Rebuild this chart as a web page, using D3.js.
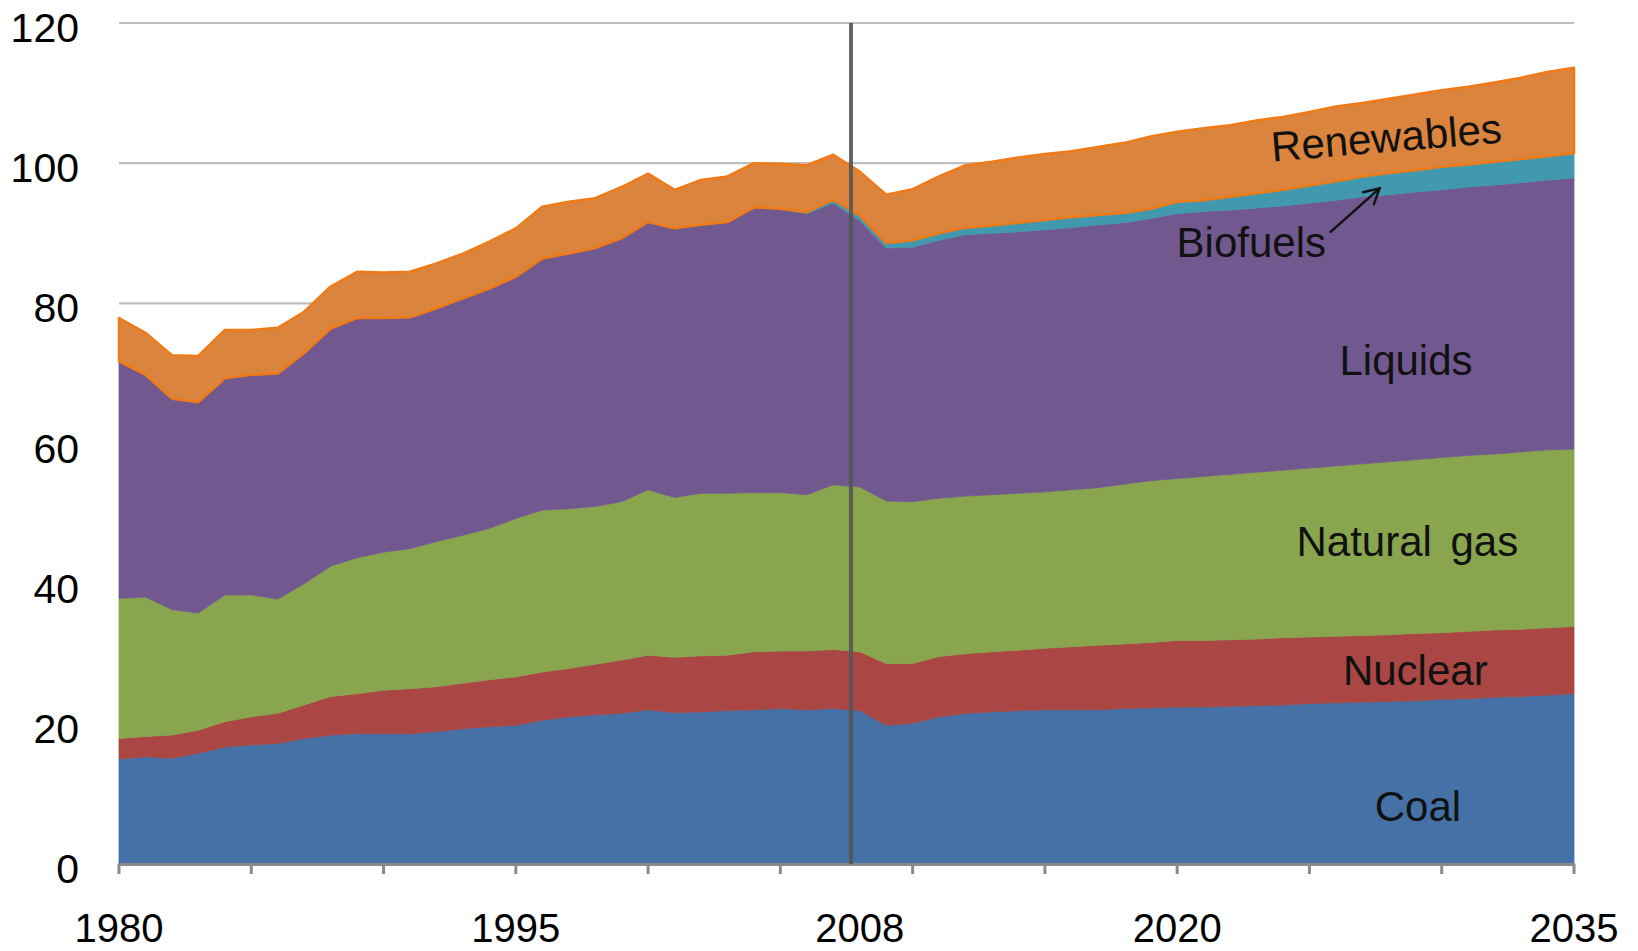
<!DOCTYPE html>
<html>
<head>
<meta charset="utf-8">
<script src="https://cdn.jsdelivr.net/npm/d3@7/dist/d3.min.js"></script>
<style>
  html, body { margin: 0; padding: 0; background: #fff; }
  svg { display: block; }
  text { font-family: "Liberation Sans", Arial, Helvetica, sans-serif; }
</style>
</head>
<body>
<svg id="chart" width="1638" height="951"></svg>
<script>
// ---- Data (quadrillion Btu) ----
const years = d3.range(1980, 2036);

const coal = [15.0,15.3,15.1,15.8,16.7,17.0,17.2,17.9,18.4,18.6,
              18.6,18.6,18.9,19.3,19.6,19.8,20.5,21.0,21.3,21.5,
              22.0,21.6,21.7,21.9,22.0,22.2,22.0,22.2,21.9,19.8,
              20.1,21.0,21.5,21.7,21.9,22.0,22.0,22.0,22.2,22.3,
              22.4,22.4,22.5,22.6,22.7,22.9,23.0,23.1,23.2,23.3,
              23.5,23.6,23.8,23.9,24.1,24.3];
const nuclear = [2.9,2.9,3.3,3.3,3.6,4.0,4.3,4.8,5.5,5.7,
                 6.2,6.4,6.4,6.5,6.7,6.9,6.9,6.9,7.2,7.6,
                 7.8,7.9,8.0,7.9,8.3,8.2,8.4,8.4,8.4,8.8,
                 8.5,8.6,8.5,8.6,8.6,8.8,9.0,9.2,9.2,9.3,
                 9.5,9.5,9.5,9.5,9.6,9.5,9.5,9.5,9.5,9.6,
                 9.5,9.6,9.6,9.6,9.6,9.6];
const naturalGas = [20.0,19.9,17.9,16.7,18.1,17.4,16.3,17.3,18.6,19.4,
                    19.7,20.0,20.7,21.1,21.6,22.6,23.1,22.8,22.5,22.6,
                    23.6,22.8,23.2,23.1,22.7,22.6,22.3,23.5,23.5,23.2,
                    23.1,22.6,22.5,22.4,22.4,22.3,22.4,22.5,22.8,23.1,
                    23.1,23.4,23.6,23.8,23.9,24.1,24.3,24.5,24.7,24.8,
                    25.0,25.1,25.1,25.3,25.4,25.3];
const liquids = [33.8,31.7,30.1,30.1,30.9,31.4,32.2,32.9,33.9,34.2,
                 33.4,33.0,33.3,33.8,34.2,34.5,35.9,36.4,36.9,37.6,
                 38.2,38.4,38.3,38.7,40.7,40.4,40.1,40.2,38.0,36.1,
                 36.3,36.8,37.3,37.3,37.3,37.4,37.4,37.5,37.3,37.4,
                 37.8,37.8,37.7,37.7,37.7,37.8,37.9,38.1,38.1,38.2,
                 38.2,38.3,38.4,38.4,38.5,38.7];
const biofuels = [0,0,0,0,0,0,0,0,0,0,
                  0,0,0,0,0,0,0,0,0,0,
                  0,0,0,0,0,0.1,0.2,0.5,0.7,0.7,
                  1.0,1.0,1.0,1.1,1.3,1.4,1.5,1.4,1.4,1.4,
                  1.7,1.6,1.9,2.1,2.3,2.5,2.7,2.9,3.1,3.1,
                  3.3,3.2,3.3,3.4,3.4,3.5];
const renewables = [6.2,6.0,6.2,6.6,6.9,6.4,6.5,5.9,6.0,6.6,
                    6.5,6.5,6.4,6.4,6.7,6.9,7.4,7.4,7.1,7.3,
                    6.9,5.5,6.4,6.5,6.3,6.4,6.7,6.4,6.3,6.9,
                    7.3,8.1,8.9,9.1,9.3,9.4,9.4,9.7,10.0,10.3,
                    10.0,10.3,10.2,10.4,10.4,10.5,10.7,10.5,10.6,10.8,
                    10.9,11.1,11.3,11.6,12.0,12.2];

const seriesNames = ["Coal", "Nuclear", "Natural gas", "Liquids", "Biofuels", "Renewables"];
const seriesValues = [coal, nuclear, naturalGas, liquids, biofuels, renewables];
const seriesColors = ["#4571a7", "#aa4643", "#89a54e", "#71588f", "#4198af", "#db843d"];

const yTicks = [0, 20, 40, 60, 80, 100, 120];
const xTickYears = [1980, 1985, 1990, 1995, 2000, 2005, 2010, 2015, 2020, 2025, 2030, 2035];
const xLabelYears = [1980, 1995, 2008, 2020, 2035];
const historyDividerYear = 2007.67;

// Series label anchors in data units: [year, value, rotation]
const seriesLabels = [
  {text: "Coal",        year: 2029.1, value: 6.1,   rot: 0},
  {text: "Nuclear",     year: 2029.0, value: 25.5,  rot: 0},
  {text: "Natural gas", year: 2028.7, value: 43.9,  rot: 0, ws: 7},
  {text: "Liquids",     year: 2028.65, value: 69.8, rot: 0},
  {text: "Biofuels",    year: 2022.8, value: 86.6,  rot: 0},
  {text: "Renewables",  year: 2027.95, value: 101.6, rot: -4.7}
];
const biofuelArrow = {from: [2025.8, 90.2], to: [2027.65, 96.4]};

// ---- Layout ----
const svg = d3.select("#chart");
const plotLeft = 119, plotRight = 1574, plotTop = 23, plotBottom = 864;

const x = d3.scaleLinear().domain([1980, 2035]).range([plotLeft, plotRight]);
const y = d3.scaleLinear().domain([0, 120]).range([plotBottom, plotTop]);

// table for stack
const table = years.map((yr, i) => {
  const row = {year: yr};
  seriesNames.forEach((n, k) => row[n] = seriesValues[k][i]);
  return row;
});
const stacked = d3.stack().keys(seriesNames)(table);

// gridlines
svg.append("g").selectAll("line")
  .data(yTicks.filter(d => d > 0))
  .join("line")
  .attr("x1", plotLeft).attr("x2", plotRight)
  .attr("y1", d => y(d)).attr("y2", d => y(d))
  .attr("stroke", "#bfbfbf").attr("stroke-width", 2.2);

// areas
const area = d3.area()
  .x(d => x(d.data.year))
  .y0(d => y(d[0]))
  .y1(d => y(d[1]))
  .curve(d3.curveLinear);

svg.append("g").selectAll("path")
  .data(stacked)
  .join("path")
  .attr("d", area)
  .attr("fill", (d, i) => seriesColors[i])
  .attr("stroke", (d, i) => d.key === "Renewables" ? "#f07a17" : seriesColors[i])
  .attr("stroke-width", (d, i) => d.key === "Renewables" ? 2.5 : 0.8)
  .attr("stroke-linejoin", "round");

// y axis labels
svg.append("g").selectAll("text")
  .data(yTicks)
  .join("text")
  .attr("x", 79)
  .attr("y", d => y(d) + 19)
  .attr("text-anchor", "end")
  .attr("font-size", 41)
  .attr("fill", "#000")
  .text(d => d);

// x axis line & ticks
svg.append("line")
  .attr("x1", plotLeft - 1).attr("x2", plotRight + 1)
  .attr("y1", plotBottom + 0.5).attr("y2", plotBottom + 0.5)
  .attr("stroke", "#8a8a8a").attr("stroke-width", 3);

svg.append("g").selectAll("line")
  .data(xTickYears)
  .join("line")
  .attr("x1", d => x(d)).attr("x2", d => x(d))
  .attr("y1", plotBottom).attr("y2", plotBottom + 10)
  .attr("stroke", "#8a8a8a").attr("stroke-width", 3);

svg.append("g").selectAll("text")
  .data(xLabelYears)
  .join("text")
  .attr("x", d => x(d))
  .attr("y", 942)
  .attr("text-anchor", "middle")
  .attr("font-size", 40)
  .attr("fill", "#000")
  .text(d => d);

// history / projection divider
svg.append("line")
  .attr("x1", x(historyDividerYear)).attr("x2", x(historyDividerYear))
  .attr("y1", y(120)).attr("y2", plotBottom)
  .attr("stroke", "#555555").attr("stroke-opacity", 0.9).attr("stroke-width", 4);

// series labels
svg.append("g").selectAll("text")
  .data(seriesLabels)
  .join("text")
  .attr("transform", d => `translate(${x(d.year)},${y(d.value)}) rotate(${d.rot})`)
  .attr("text-anchor", "middle")
  .attr("font-size", 42)
  .attr("word-spacing", d => d.ws || 0)
  .attr("fill", "#111")
  .text(d => d.text);

// arrow for Biofuels
const ax0 = x(biofuelArrow.from[0]), ay0 = y(biofuelArrow.from[1]);
const ax1 = x(biofuelArrow.to[0]), ay1 = y(biofuelArrow.to[1]);
const ang = Math.atan2(ay1 - ay0, ax1 - ax0);
const headLen = 17, headSpread = 0.5;
const arrow = svg.append("g").attr("stroke", "#111").attr("stroke-width", 2.4)
  .attr("fill", "none").attr("stroke-linecap", "round");
arrow.append("line").attr("x1", ax0).attr("y1", ay0).attr("x2", ax1).attr("y2", ay1);
arrow.append("polyline").attr("points", [
  [ax1 - headLen * Math.cos(ang - headSpread), ay1 - headLen * Math.sin(ang - headSpread)],
  [ax1, ay1],
  [ax1 - headLen * Math.cos(ang + headSpread), ay1 - headLen * Math.sin(ang + headSpread)]
].map(p => p.join(",")).join(" "));
</script>
</body>
</html>
